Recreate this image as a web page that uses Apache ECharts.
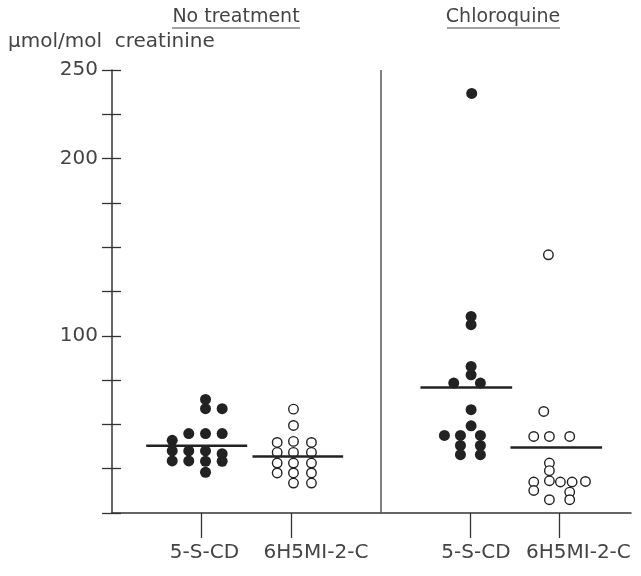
<!DOCTYPE html>
<html>
<head>
<meta charset="utf-8">
<script src="https://cdn.jsdelivr.net/npm/echarts@6/dist/echarts.min.js"></script>
<style>html,body{margin:0;padding:0;background:#fff}#c{width:641px;height:576px}</style>
</head>
<body>
<div id="c"></div>
<script>
// Category positions on the x value axis and their labels
var categoryPositions = [1, 2, 4, 5];
var categoryLabels = ['5-S-CD', '6H5MI-2-C', '5-S-CD', '6H5MI-2-C'];
var yTickLabels = [250, 200, 100];
var panelDivider = 3;

// Individual values: [x position (column within the group), value in µmol/mol creatinine]
var noTreat5SCD = [
  [0.673, 41.0], [0.673, 35.1], [0.673, 29.4],
  [0.858, 44.8], [0.858, 35.0], [0.858, 29.4],
  [1.045, 64.1], [1.045, 58.9], [1.045, 44.8], [1.045, 35.0], [1.045, 29.2], [1.045, 23.0],
  [1.231, 58.9], [1.231, 44.8], [1.231, 33.5], [1.231, 29.2]
];
var noTreat6H5MI = [
  [1.846, 39.8], [1.846, 34.2], [1.846, 28.2], [1.846, 22.6],
  [2.028, 58.6], [2.028, 49.4], [2.028, 40.4], [2.028, 34.2], [2.028, 28.2], [2.028, 22.6], [2.028, 16.9],
  [2.229, 39.8], [2.229, 34.2], [2.229, 28.2], [2.229, 22.6], [2.229, 16.9]
];
var chloro5SCD = [
  [4.02, 236.8],
  [4.013, 110.9], [4.013, 106.3], [4.013, 82.7], [4.013, 78.0],
  [3.819, 73.3], [4.117, 73.3],
  [4.013, 58.3], [4.013, 49.2],
  [3.715, 43.8], [3.894, 43.8], [4.117, 43.8],
  [3.894, 38.1], [4.117, 38.1],
  [3.894, 32.9], [4.117, 32.9]
];
var chloro6H5MI = [
  [4.877, 145.7],
  [4.825, 57.3],
  [4.713, 43.2], [4.888, 43.2], [5.115, 43.2],
  [4.888, 28.2], [4.888, 23.9],
  [4.713, 17.5], [4.888, 18.2], [5.011, 17.5], [5.142, 17.5], [5.291, 17.8],
  [4.713, 12.7], [5.115, 11.8],
  [4.888, 7.5], [5.115, 7.5]
];
// Median values and the x extent of each median bar
var medians = [38.0, 31.9, 70.8, 37.0];
var medianFrom = [0.382, 1.570, 3.447, 4.453];
var medianTo = [1.511, 2.583, 4.472, 5.477];

var FONT = 'DejaVu Sans';
var INK = '#222';
var TXT = '#444';

var chart = echarts.init(document.getElementById('c'), null, {renderer: 'canvas'});

var labelRich = {
  s0: {fontFamily: FONT, fontSize: 20, color: TXT, padding: [0, 0, 0, 6]},
  s1: {fontFamily: FONT, fontSize: 20, color: TXT, padding: [0, 0, 0, 50]},
  s2: {fontFamily: FONT, fontSize: 20, color: TXT, padding: [0, 0, 0, 12]},
  s3: {fontFamily: FONT, fontSize: 20, color: TXT, padding: [0, 0, 0, 38]}
};

var series = [
  {
    type: 'scatter', data: noTreat5SCD, symbol: 'circle', symbolSize: 11,
    itemStyle: {color: INK, borderWidth: 0, opacity: 1}, z: 3,
    markLine: {
      silent: true, symbol: ['none', 'none'], label: {show: false},
      lineStyle: {color: '#555', width: 1.5, type: 'solid'},
      data: [{xAxis: panelDivider}]
    }
  },
  {
    type: 'scatter', data: noTreat6H5MI, symbol: 'circle', symbolSize: 9.5,
    itemStyle: {color: '#fff', borderColor: INK, borderWidth: 1.4, opacity: 1}, z: 3
  },
  {
    type: 'scatter', data: chloro5SCD, symbol: 'circle', symbolSize: 11,
    itemStyle: {color: INK, borderWidth: 0, opacity: 1}, z: 3
  },
  {
    type: 'scatter', data: chloro6H5MI, symbol: 'circle', symbolSize: 9.5,
    itemStyle: {color: '#fff', borderColor: INK, borderWidth: 1.4, opacity: 1}, z: 3
  }
];
medians.forEach(function (m, i) {
  series.push({
    type: 'line', data: [[medianFrom[i], m], [medianTo[i], m]],
    symbol: 'none', lineStyle: {color: INK, width: 2.5}, z: 4, silent: true
  });
});

chart.setOption({
  animation: false,
  backgroundColor: '#fff',
  grid: {left: 112, right: 10, top: 70, bottom: 63, containLabel: false, outerBoundsMode: 'none'},
  xAxis: {
    type: 'value', min: 0, max: 5.8,
    splitLine: {show: false},
    axisLine: {show: true, onZero: false, lineStyle: {color: '#333', width: 1.5}},
    axisTick: {show: true, customValues: categoryPositions, length: 25, lineStyle: {color: '#333', width: 1.3}},
    axisLabel: {
      show: true, customValues: categoryPositions, margin: 30,
      formatter: function (v) {
        var i = categoryPositions.indexOf(v);
        return i < 0 ? '' : '{s' + i + '|' + categoryLabels[i] + '}';
      },
      rich: labelRich
    }
  },
  yAxis: [
    {
      type: 'value', min: 0, max: 250, interval: 25,
      splitLine: {show: false},
      axisLine: {show: true, lineStyle: {color: '#333', width: 1.5}},
      axisTick: {show: true, length: 10, lineStyle: {color: '#333', width: 1.3}},
      axisLabel: {
        show: true, margin: 14, fontFamily: FONT, fontSize: 20, color: TXT,
        formatter: function (v) { return yTickLabels.indexOf(v) >= 0 ? String(v) : ''; }
      }
    },
    {
      type: 'value', min: 0, max: 250, interval: 25, position: 'left', offset: 0,
      splitLine: {show: false},
      axisLine: {show: false},
      axisTick: {show: true, inside: true, length: 9, lineStyle: {color: '#333', width: 1.3}},
      axisLabel: {show: false}
    }
  ],
  graphic: [
    {type: 'text', left: 8, top: 32, style: {text: 'μmol/mol  creatinine', fontFamily: FONT, fontSize: 20, fill: TXT}},
    {type: 'text', x: 236, y: 17, style: {text: 'No treatment', fontFamily: FONT, fontSize: 19, fill: TXT, align: 'center', verticalAlign: 'middle'}},
    {type: 'line', shape: {x1: 172, y1: 28, x2: 300, y2: 28}, style: {stroke: TXT, lineWidth: 1.2}},
    {type: 'text', x: 503, y: 17, style: {text: 'Chloroquine', fontFamily: FONT, fontSize: 19, fill: TXT, align: 'center', verticalAlign: 'middle'}},
    {type: 'line', shape: {x1: 447, y1: 28, x2: 560, y2: 28}, style: {stroke: TXT, lineWidth: 1.2}}
  ],
  series: series
});
</script>
</body>
</html>
